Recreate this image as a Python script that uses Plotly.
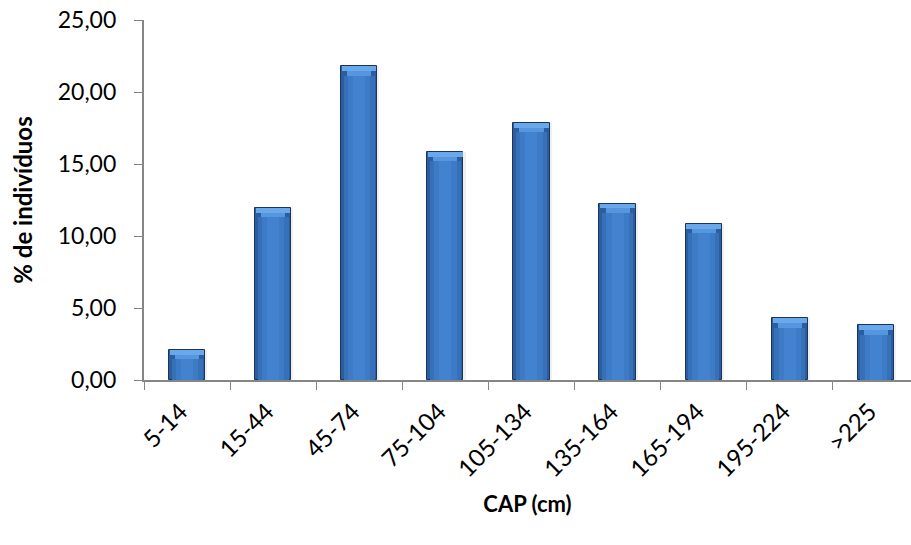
import plotly.graph_objects as go

# CAP size classes and share of individuals (%)
classes = ["5-14", "15-44", "45-74", "75-104", "105-134", "135-164", "165-194", "195-224", ">225"]
percent = [2.09, 11.95, 21.78, 15.84, 17.86, 12.25, 10.83, 4.29, 3.80]
y_ticks = [0, 5, 10, 15, 20, 25]

FONT = "Lato"
AXIS_GREY = "#868686"
cap = 0.65  # height of the bevelled top, in axis units


def pad(text, filler):
    # invisible trailing glyphs keep tick labels clear of the axis
    return f"{text}<span style='color:rgba(0,0,0,0)'>{filler}</span>"


x_labels = [pad(c, "-") for c in classes]
y_labels = [pad(f"{v:.2f}".replace(".", ","), "0") for v in y_ticks]

fig = go.Figure()

# soft drop shadow behind each bar
fig.add_trace(go.Bar(
    x=classes, y=percent, width=0.44, offset=-0.205,
    marker=dict(color="rgba(0,0,0,0.06)", line=dict(width=0)),
    hoverinfo="skip", showlegend=False,
))
# main bar body with dark edges
fig.add_trace(go.Bar(
    x=classes, y=percent, width=0.42,
    marker=dict(color="#2C5E9F", line=dict(color="#1B355A", width=1)),
    showlegend=False,
))
# lighter centre bands (horizontal shading)
fig.add_trace(go.Bar(
    x=classes, y=[v - cap for v in percent], width=0.36,
    marker=dict(color="#3570B8", line=dict(width=0)),
    hoverinfo="skip", showlegend=False,
))
fig.add_trace(go.Bar(
    x=classes, y=[v - cap for v in percent], width=0.26,
    marker=dict(color="#3D7BC7", line=dict(width=0)),
    hoverinfo="skip", showlegend=False,
))
fig.add_trace(go.Bar(
    x=classes, y=[v - cap for v in percent], width=0.14,
    marker=dict(color="#4282CF", line=dict(width=0)),
    hoverinfo="skip", showlegend=False,
))
# bevelled top: wide light strip above a narrower one
fig.add_trace(go.Bar(
    x=classes, y=[cap * 0.5] * len(percent), base=[v - cap * 0.5 for v in percent], width=0.40,
    marker=dict(color="#6AA8EC", line=dict(width=0)),
    hoverinfo="skip", showlegend=False,
))
fig.add_trace(go.Bar(
    x=classes, y=[cap * 0.5] * len(percent), base=[v - cap for v in percent], width=0.28,
    marker=dict(color="#5596DE", line=dict(width=0)),
    hoverinfo="skip", showlegend=False,
))

fig.update_layout(
    width=911, height=545,
    margin=dict(l=144, r=0, t=20, b=165),
    barmode="overlay",
    bargap=0,
    plot_bgcolor="white", paper_bgcolor="white",
    font=dict(family=FONT, size=20, color="#000000"),
    showlegend=False,
)
fig.update_xaxes(
    type="category",
    range=[-0.5, 8.408],
    tickmode="array", tickvals=classes, ticktext=x_labels,
    tickangle=-45,
    ticks="outside", ticklen=8, tickcolor=AXIS_GREY, tickwidth=1,
    tickson="boundaries",
    showline=True, linecolor=AXIS_GREY, linewidth=1.5,
    showgrid=False, zeroline=False,
    tickfont=dict(family=FONT, size=24),
    title=dict(text="<b>CAP (cm)</b>", font=dict(family=FONT, size=22), standoff=15),
)
fig.update_yaxes(
    range=[0, 25],
    tickmode="array", tickvals=y_ticks, ticktext=y_labels,
    ticks="outside", ticklen=8, tickcolor=AXIS_GREY, tickwidth=1,
    showline=True, linecolor=AXIS_GREY, linewidth=1.5,
    showgrid=False, zeroline=False,
    tickfont=dict(family=FONT, size=23),
    title=dict(text="<b>% de indivíduos</b>", font=dict(family=FONT, size=24), standoff=18),
)

fig.write_html("out.html")
